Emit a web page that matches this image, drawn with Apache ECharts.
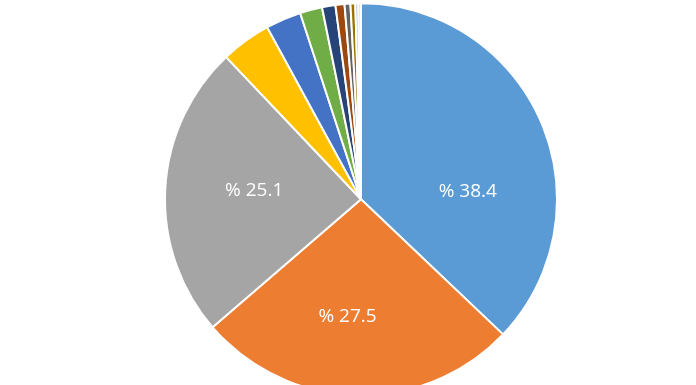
<!DOCTYPE html>
<html>
<head>
<meta charset="utf-8">
<script src="https://cdn.jsdelivr.net/npm/echarts@6/dist/echarts.min.js"></script>
<style>
html,body{margin:0;padding:0;background:#fff;}
#chart{width:696px;height:385px;}
</style>
</head>
<body>
<div id="chart"></div>
<script>
// Slice names (unlabelled in the reference)
var categories = ['A', 'B', 'C', 'D', 'E', 'F', 'G', 'H', 'I', 'J', 'K', 'L'];
// Slice values (labels show the value itself)
var values = [38.4, 27.5, 25.1, 4.28, 3.02, 1.90, 1.14, 0.77, 0.50, 0.41, 0.26, 0.22];
// Which slices carry a visible label
var showLabel = [true, true, true, false, false, false, false, false, false, false, false, false];
var colors = ['#5B9BD5', '#ED7D31', '#A5A5A5', '#FFC000', '#4472C4', '#70AD47',
              '#264478', '#9E480E', '#636363', '#997300', '#A9B8D8', '#C9D6EC'];
// label nudges (style, not data)
var labelOffsets = [[14, 32], [-11, 16], [-6, -4]];

var chart = echarts.init(document.getElementById('chart'), null, {renderer: 'canvas'});
var data = categories.map(function (c, i) {
  return {
    name: c,
    value: values[i],
    itemStyle: {color: colors[i]},
    label: {show: showLabel[i]}
  };
});
chart.setOption({
  animation: false,
  backgroundColor: '#ffffff',
  series: [{
    type: 'pie',
    center: [361, 199.3],
    radius: [0, 196],
    startAngle: 90,
    clockwise: true,
    avoidLabelOverlap: false,
    itemStyle: {borderColor: '#ffffff', borderWidth: 2},
    label: {
      position: 'inside',
      formatter: function (p) { return '% ' + p.value; },
      color: '#ffffff',
      fontFamily: 'Open Sans',
      fontSize: 19
    },
    labelLine: {show: false},
    labelLayout: function (params) {
      var o = labelOffsets[params.dataIndex];
      if (!o) return {};
      return {dx: o[0], dy: o[1]};
    },
    data: data
  }]
});
</script>
</body>
</html>
